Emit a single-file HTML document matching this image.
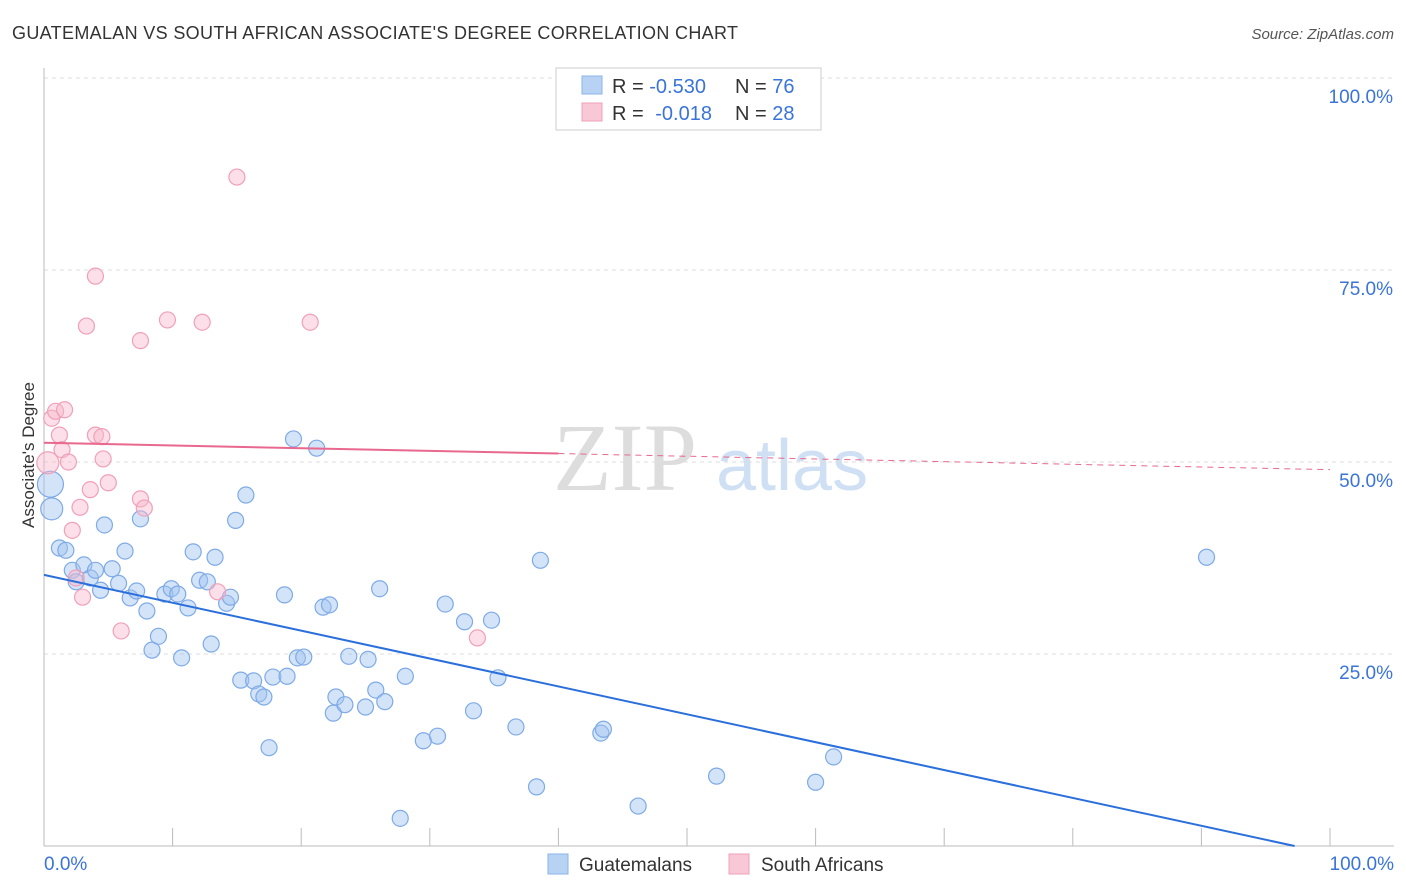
<!DOCTYPE html>
<html><head><meta charset="utf-8"><style>
body{margin:0;background:#fff;font-family:"Liberation Sans",sans-serif;}
svg{display:block}
</style></head><body>
<svg id="chart" width="1406" height="892">
<text x="12" y="39" font-size="18" fill="#333" textLength="726">GUATEMALAN VS SOUTH AFRICAN ASSOCIATE'S DEGREE CORRELATION CHART</text>
<text x="1394" y="39" font-size="15" fill="#555" font-style="italic" text-anchor="end">Source: ZipAtlas.com</text>
<text transform="translate(34,455) rotate(-90)" font-size="17" fill="#333" text-anchor="middle">Associate's Degree</text>
<g>
<text x="553" y="490" font-size="96" font-family="Liberation Serif,serif" fill="#ddd">ZIP</text>
<text x="716" y="490" font-size="72" fill="#cfe0f4">atlas</text>
</g>
<g id="grid"></g><g id="pts"></g><g id="lines"></g>
<g>
<rect x="556" y="68" width="265" height="62" fill="#fff" stroke="#ccc"/>
<rect x="582" y="76" width="20" height="18" fill="#b8d2f4" stroke="#8ab4e8"/>
<rect x="582" y="103" width="20" height="18" fill="#f9c8d6" stroke="#f0a0b8"/>
<text x="612" y="93" font-size="20" fill="#333">R = <tspan fill="#3a74d8">-0.530</tspan><tspan x="735">N = </tspan><tspan fill="#3a74d8">76</tspan></text>
<text x="612" y="120" font-size="20" fill="#333">R = <tspan fill="#3a74d8" dx="6">-0.018</tspan><tspan x="735">N = </tspan><tspan fill="#3a74d8">28</tspan></text>
</g>
<g>
<rect x="548" y="854" width="20" height="20" fill="#b8d2f4" stroke="#8ab4e8"/>
<text x="579" y="871" font-size="19" fill="#333">Guatemalans</text>
<rect x="729" y="854" width="20" height="20" fill="#f9c8d6" stroke="#f0a0b8"/>
<text x="761" y="871" font-size="19" fill="#333">South Africans</text>
</g>
</svg>
<script>
const blueX=[0.5,0.6,1.2,1.7,2.2,2.5,3.1,3.6,4.0,4.4,4.7,5.3,5.8,6.3,6.7,7.2,7.5,8.0,8.4,8.9,9.4,9.9,10.4,10.7,11.2,11.6,12.1,12.7,13.0,13.3,14.2,14.5,14.9,15.3,15.7,16.3,16.7,17.1,17.5,17.8,18.7,18.9,19.4,19.7,20.2,21.2,21.7,22.2,22.5,22.7,23.4,23.7,25.0,25.2,25.8,26.1,26.5,27.7,28.1,29.5,30.6,31.2,32.7,33.4,34.8,35.3,36.7,38.3,38.6,43.3,43.5,46.2,52.3,60.0,61.4,90.4];
const blueY=[47.1,43.9,38.8,38.5,35.9,34.4,36.6,34.9,35.9,33.3,41.8,36.1,34.2,38.4,32.3,33.2,42.6,30.6,25.5,27.3,32.8,33.5,32.8,24.5,31.0,38.3,34.6,34.4,26.3,37.6,31.6,32.4,42.4,21.6,45.7,21.5,19.8,19.4,12.8,22.0,32.7,22.1,53.0,24.5,24.6,51.8,31.1,31.4,17.3,19.4,18.4,24.7,18.1,24.3,20.3,33.5,18.8,3.6,22.1,13.7,14.3,31.5,29.2,17.6,29.4,21.9,15.5,7.7,37.2,14.7,15.2,5.2,9.1,8.3,11.6,37.6];
const blueBig=[13,11];
const pinkX=[0.3,0.6,0.9,1.2,1.4,1.6,1.9,2.2,2.5,2.8,3.0,3.3,3.6,4.0,4.0,4.5,4.6,5.0,6.0,7.5,7.5,7.8,9.6,12.3,13.5,15.0,20.7,33.7];
const pinkY=[49.9,55.7,56.6,53.5,51.6,56.8,50.0,41.1,34.9,44.1,32.4,67.7,46.4,74.2,53.5,53.3,50.4,47.3,28.0,65.8,45.2,44.0,68.5,68.2,33.1,87.1,68.2,27.1];
const yTicks=[25,50,75,100];
const yTickLabels=["25.0%","50.0%","75.0%","100.0%"];
const xTicks=[10,20,30,40,50,60,70,80,90,100];
const blueTrend=[35.3,-1.0];
const pinkTrend=[52.5,49.0];
const NS='http://www.w3.org/2000/svg';
const X=v=>44+v*12.86, Y=v=>846-v*7.68;
function mk(t,a,p){const e=document.createElementNS(NS,t);for(const k in a)e.setAttribute(k,a[k]);p.appendChild(e);return e;}
const g=document.getElementById('grid');
yTicks.forEach((t,i)=>{
 const l=mk('line',{x1:44,x2:1394,y1:Y(t),y2:Y(t),stroke:'#ddd','stroke-dasharray':'4,4'},g);
 
 
 const tx=mk('text',{x:1393,y:Y(t)+25,'font-size':19,fill:'#3a74d8','text-anchor':'end'},g);
 tx.textContent=yTickLabels[i];
 
 
});
const ax=mk('line',{x1:44,x2:44,y1:68,y2:846,stroke:'#bbb'},g);


const bx=mk('line',{x1:44,x2:1394,y1:846,y2:846,stroke:'#bbb'},g);


xTicks.forEach(t=>{const l=mk('line',{x1:X(t),x2:X(t),y1:828,y2:846,stroke:'#bbb'},g);
 
 });
const t0=mk('text',{x:44,y:870,'font-size':19,fill:'#3a74d8'},g);t0.textContent='0.0%';


const t1=mk('text',{x:1394,y:870,'font-size':19,fill:'#3a74d8','text-anchor':'end'},g);t1.textContent='100.0%';


const p=document.getElementById('pts');
blueX.forEach((v,i)=>{const c=mk('circle',{cx:X(v),cy:Y(blueY[i]),r:blueBig[i]||8,fill:'rgba(160,195,240,0.45)',stroke:'#7eaae6','stroke-width':1.2},p);
 
 });
pinkX.forEach((v,i)=>{const c=mk('circle',{cx:X(v),cy:Y(pinkY[i]),r:i==0?11:8,fill:'rgba(248,185,205,0.45)',stroke:'#f0a0b8','stroke-width':1.2},p);
 
 });
const L=document.getElementById('lines');
const bEnd=blueTrend[0]/(blueTrend[0]-blueTrend[1])*100;
const bl=mk('line',{x1:X(0),y1:Y(blueTrend[0]),x2:X(bEnd),y2:Y(0),stroke:'#2a6fdb','stroke-width':2},L);


const pm=pinkTrend[0]+(pinkTrend[1]-pinkTrend[0])*0.4;
const pl=mk('line',{x1:X(0),y1:Y(pinkTrend[0]),x2:X(40),y2:Y(pm),stroke:'#e8688f','stroke-width':2},L);


const pd=mk('line',{x1:X(40),y1:Y(pm),x2:X(100),y2:Y(pinkTrend[1]),stroke:'#e8688f','stroke-width':1,'stroke-dasharray':'6,5'},L);


</script>
</body></html>
